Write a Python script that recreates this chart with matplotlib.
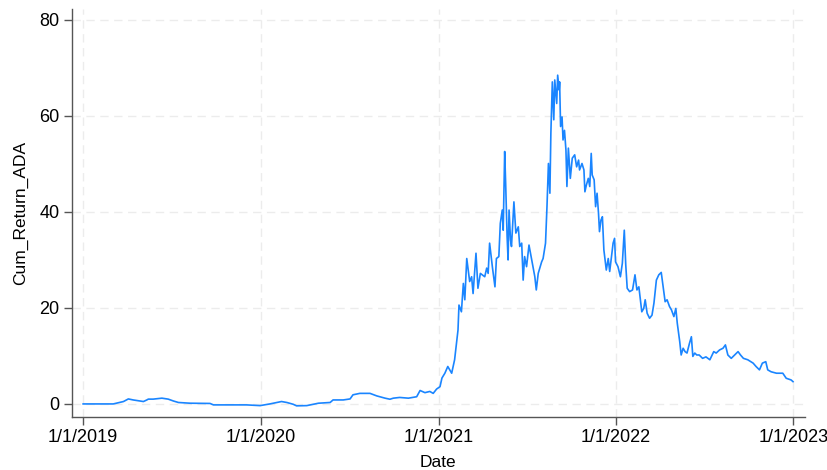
import numpy as np
import pandas as pd
import matplotlib
matplotlib.use("Agg")
import matplotlib.pyplot as plt
import matplotlib.dates as mdates

# cumulative return of ADA since 1/1/2019
dates = [
    "2019-01-01", "2019-02-05", "2019-03-04", "2019-03-25", "2019-04-04", "2019-04-14",
    "2019-05-05", "2019-05-12", "2019-05-15", "2019-05-25", "2019-06-12", "2019-06-25",
    "2019-07-06", "2019-07-16", "2019-08-09", "2019-09-19", "2019-09-26", "2019-10-30",
    "2019-12-03", "2019-12-31", "2020-01-20", "2020-02-13", "2020-02-24", "2020-03-08",
    "2020-03-15", "2020-04-05", "2020-04-29", "2020-05-23", "2020-05-29", "2020-06-19",
    "2020-07-03", "2020-07-09", "2020-07-23", "2020-08-13", "2020-08-27", "2020-09-13",
    "2020-09-23", "2020-09-30", "2020-10-13", "2020-10-31", "2020-11-17", "2020-11-24",
    "2020-12-04", "2020-12-14", "2020-12-21", "2020-12-28", "2021-01-04", "2021-01-08",
    "2021-01-14", "2021-01-20", "2021-01-28", "2021-02-03", "2021-02-10", "2021-02-12",
    "2021-02-17", "2021-02-21", "2021-02-24", "2021-02-28", "2021-03-06", "2021-03-10",
    "2021-03-13", "2021-03-19", "2021-03-23", "2021-03-28", "2021-04-06", "2021-04-10",
    "2021-04-13", "2021-04-16", "2021-04-22", "2021-04-27", "2021-04-30", "2021-05-05",
    "2021-05-08", "2021-05-12", "2021-05-14", "2021-05-17", "2021-05-19", "2021-05-22",
    "2021-05-24", "2021-05-26", "2021-05-29", "2021-05-31", "2021-06-05", "2021-06-09",
    "2021-06-14", "2021-06-17", "2021-06-21", "2021-06-24", "2021-06-27", "2021-07-01",
    "2021-07-06", "2021-07-11", "2021-07-18", "2021-07-21", "2021-07-25", "2021-08-01",
    "2021-08-04", "2021-08-09", "2021-08-12", "2021-08-15", "2021-08-18", "2021-08-20",
    "2021-08-23", "2021-08-26", "2021-08-28", "2021-09-01", "2021-09-03", "2021-09-06",
    "2021-09-07", "2021-09-09", "2021-09-12", "2021-09-14", "2021-09-17", "2021-09-20",
    "2021-09-22", "2021-09-25", "2021-09-29", "2021-10-03", "2021-10-08", "2021-10-12",
    "2021-10-16", "2021-10-18", "2021-10-23", "2021-10-27", "2021-10-29", "2021-11-01",
    "2021-11-05", "2021-11-08", "2021-11-11", "2021-11-13", "2021-11-17", "2021-11-20",
    "2021-11-23", "2021-11-26", "2021-11-28", "2021-12-01", "2021-12-04", "2021-12-07",
    "2021-12-12", "2021-12-16", "2021-12-19", "2021-12-26", "2021-12-29", "2021-12-31",
    "2022-01-05", "2022-01-10", "2022-01-14", "2022-01-18", "2022-01-21", "2022-01-24",
    "2022-01-29", "2022-02-04", "2022-02-09", "2022-02-13", "2022-02-17", "2022-02-23",
    "2022-02-27", "2022-03-02", "2022-03-06", "2022-03-11", "2022-03-16", "2022-03-20",
    "2022-03-25", "2022-03-30", "2022-04-04", "2022-04-08", "2022-04-12", "2022-04-16",
    "2022-04-21", "2022-04-25", "2022-04-30", "2022-05-04", "2022-05-07", "2022-05-12",
    "2022-05-15", "2022-05-19", "2022-05-23", "2022-05-27", "2022-06-01", "2022-06-05",
    "2022-06-08", "2022-06-12", "2022-06-16", "2022-06-21", "2022-06-28", "2022-07-05",
    "2022-07-13", "2022-07-21", "2022-07-26", "2022-08-02", "2022-08-09", "2022-08-14",
    "2022-08-19", "2022-08-26", "2022-09-02", "2022-09-09", "2022-09-14", "2022-09-20",
    "2022-09-29", "2022-10-10", "2022-10-16", "2022-10-23", "2022-10-29", "2022-11-05",
    "2022-11-09", "2022-11-16", "2022-11-27", "2022-12-10", "2022-12-17", "2022-12-27",
    "2022-12-31",
]
cum_return = [
    0.0, 0.0, 0.0, 0.5, 1.04, 0.83,
    0.5, 0.83, 1.0, 1.0, 1.2, 1.0,
    0.6, 0.3, 0.15, 0.1, -0.2, -0.2,
    -0.2, -0.35, 0.0, 0.5, 0.3, -0.07,
    -0.4, -0.35, 0.15, 0.3, 0.83, 0.83,
    1.04, 1.9, 2.2, 2.2, 1.67, 1.2,
    0.98, 1.2, 1.35, 1.2, 1.5, 2.8,
    2.35, 2.6, 2.2, 3.1, 3.6, 5.4,
    6.4, 7.8, 6.4, 9.2, 15.4, 20.6,
    19.2, 25.1, 21.7, 30.3, 25.5, 26.5,
    23.0, 31.4, 24.1, 27.2, 26.5, 28.3,
    27.2, 33.5, 28.3, 24.4, 30.3, 30.7,
    37.6, 40.4, 36.2, 52.6, 46.0, 34.9,
    30.0, 40.4, 34.2, 32.8, 42.1, 35.6,
    36.9, 32.8, 33.5, 25.8, 30.7, 28.6,
    33.1, 30.3, 26.5, 23.75, 27.2, 29.6,
    30.3, 33.5, 41.1, 50.1, 43.9, 56.4,
    67.1, 59.2, 67.5, 62.6, 68.5, 65.4,
    67.1, 57.8, 59.8, 55.0, 57.0, 52.9,
    45.3, 53.3, 47.0, 51.2, 51.9, 49.4,
    50.8, 48.75, 50.1, 48.75, 44.2, 45.6,
    47.0, 45.3, 52.2, 47.7, 46.7, 41.1,
    43.9, 39.7, 35.9, 38.3, 39.0, 32.1,
    27.9, 30.3, 27.6, 33.5, 34.5, 29.6,
    28.6, 26.5, 29.3, 36.2, 29.0, 24.1,
    23.4, 23.75, 26.9, 23.75, 24.4, 19.2,
    19.9, 21.7, 18.9, 17.85, 18.5, 21.0,
    25.8, 26.9, 27.4, 24.4, 21.3, 21.7,
    20.3, 19.6, 18.2, 19.9, 16.8, 13.0,
    10.2, 11.6, 10.9, 10.6, 12.6, 14.0,
    9.9, 10.6, 10.2, 10.2, 9.5, 9.8,
    9.2, 10.9, 10.6, 11.25, 11.6, 12.3,
    10.2, 9.5, 10.2, 10.9, 10.2, 9.5,
    9.2, 8.5, 7.8, 7.1, 8.5, 8.8,
    7.1, 6.7, 6.4, 6.4, 5.35, 5.0,
    4.65,
]

x_ticks = ["2019-01-01", "2020-01-01", "2021-01-01", "2022-01-01", "2023-01-01"]
y_ticks = [0, 20, 40, 60, 80]

df = pd.DataFrame({"Date": pd.to_datetime(dates), "Cum_Return_ADA": cum_return})

plt.rcParams["font.family"] = ["Liberation Sans", "DejaVu Sans"]

fig = plt.figure(figsize=(8.27, 4.70), dpi=100)
ax = fig.add_axes([0.087, 0.113, 0.886, 0.868])

ax.plot(df["Date"], df["Cum_Return_ADA"], color="#1a85ff", lw=1.2)

xt = pd.to_datetime(x_ticks)
ax.set_xticks(xt)
ax.set_xticklabels([f"{d.month}/{d.day}/{d.year}" for d in xt])
ax.set_xlim(xt[0] - pd.Timedelta(days=23), xt[-1] + pd.Timedelta(days=23))
ax.set_yticks(y_ticks)
ax.set_ylim(-2.7, 82.3)

ax.grid(True, ls=(0, (6, 4)), color="#ececec", lw=1.0)
ax.set_axisbelow(True)
for s in ["top", "right"]:
    ax.spines[s].set_visible(False)
for s in ["left", "bottom"]:
    ax.spines[s].set_color("#555555")
    ax.spines[s].set_linewidth(1.0)
ax.tick_params(axis="both", length=6, width=1.0, color="#555555", labelsize=13, pad=3)

ax.set_xlabel("Date", fontsize=12.5, labelpad=6)
ax.set_ylabel("Cum_Return_ADA", fontsize=12.5, labelpad=8)

fig.savefig("out.png", dpi=100)
